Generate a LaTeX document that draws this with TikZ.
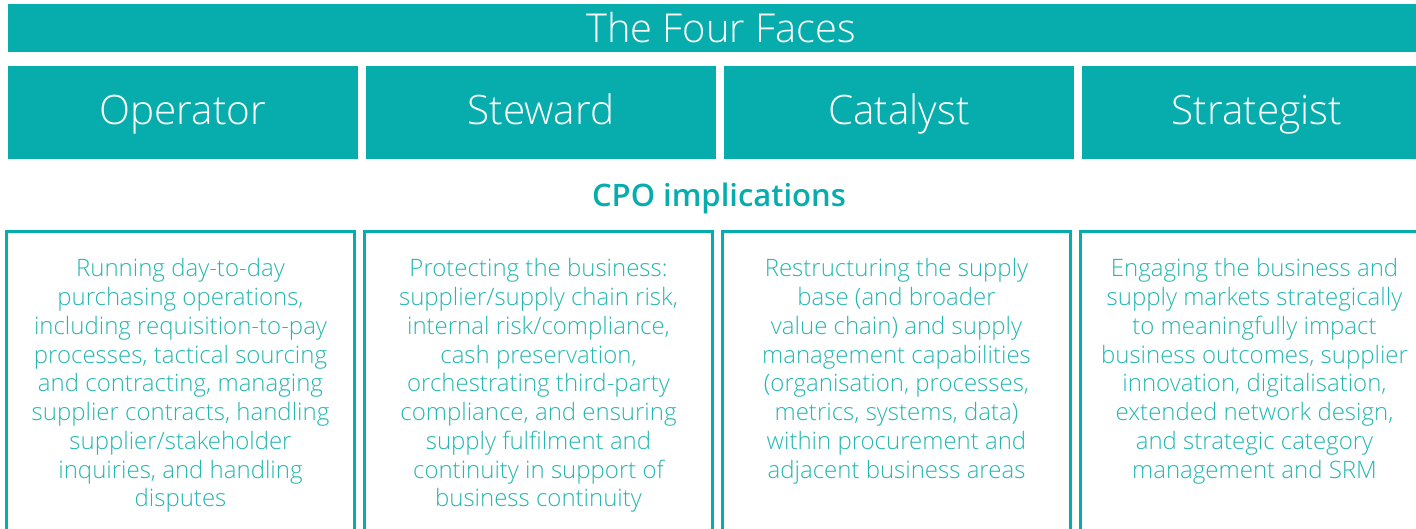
\documentclass[tikz,border=0pt]{standalone}
\usepackage{fontspec}
\setmainfont{Open Sans}
\newfontfamily\lightfont{Open Sans Light}
\newfontfamily\semifont{Open Sans Semibold}
\usepackage{tikz}

\definecolor{faceteal}{RGB}{7,173,173}
\definecolor{implteal}{RGB}{36,183,177}

\begin{document}
\begin{tikzpicture}[
            x=1pt, y=-1pt,
            titlebar/.style={fill=faceteal, text=white, inner sep=0pt,
                minimum width=1426pt, minimum height=48pt,
                text height=29pt, text depth=0pt,
                font=\lightfont\fontsize{39.8}{48}\selectfont},
            facebox/.style={fill=faceteal, text=white, inner sep=0pt,
                minimum width=350pt, minimum height=93pt,
                text height=30pt, text depth=6pt,
                font=\lightfont\fontsize{40.5}{50}\selectfont},
            heading/.style={text=faceteal, inner sep=0pt,
                text height=22pt, text depth=0pt,
                font=\semifont\fontsize{31}{36}\selectfont},
            implbox/.style={draw=faceteal, line width=3pt, inner sep=0pt,
                minimum width=348pt, minimum height=313pt},
            impltext/.style={text=implteal, inner sep=0pt, anchor=north, align=center,
                font=\lightfont\fontsize{24}{28.75}\selectfont}
        ]
            \useasboundingbox (0, 0) rectangle (1416, 528);
            \clip (0, 0) rectangle (1416, 528);

            % the four faces
            \node[titlebar] (title) at (721, 28) {The Four Faces};

            \node[facebox] (operator) at (183, 112.5) {Operator};
            \node[facebox] (steward) at (541, 112.5) {Steward};
            \node[facebox] (catalyst) at (899, 112.5) {Catalyst};
            \node[facebox] (strategist) at (1257, 112.5) {Strategist};

            % implications
            \node[heading] (cpo) at (719, 195) {CPO implications};

            \node[implbox] (opbox) at (180.5, 388) {};
            \node[implbox] (stbox) at (538.5, 388) {};
            \node[implbox] (cabox) at (896.5, 388) {};
            \node[implbox] (srbox) at (1254.5, 388) {};

            \node[impltext] (optext) at (180.5, 258.5) {Running day-to-day\\ purchasing operations,\\ including requisition-to-pay\\ processes, tactical sourcing\\ and contracting, managing\\ supplier contracts, handling\\ supplier/stakeholder\\ inquiries, and handling\\ disputes};
            \node[impltext] (sttext) at (538.5, 258.5) {Protecting the business:\\ supplier/supply chain risk,\\ internal risk/compliance,\\ cash preservation,\\ orchestrating third-party\\ compliance, and ensuring\\ supply fulfilment and\\ continuity in support of\\ business continuity};
            \node[impltext] (catext) at (896.5, 258.5) {Restructuring the supply\\ base (and broader\\ value chain) and supply\\ management capabilities\\ (organisation, processes,\\ metrics, systems, data)\\ within procurement and\\ adjacent business areas};
            \node[impltext] (srtext) at (1254.5, 258.5) {Engaging the business and\\ supply markets strategically\\ to meaningfully impact\\ business outcomes, supplier\\ innovation, digitalisation,\\ extended network design,\\ and strategic category\\ management and SRM};
        \end{tikzpicture}
\end{document}
